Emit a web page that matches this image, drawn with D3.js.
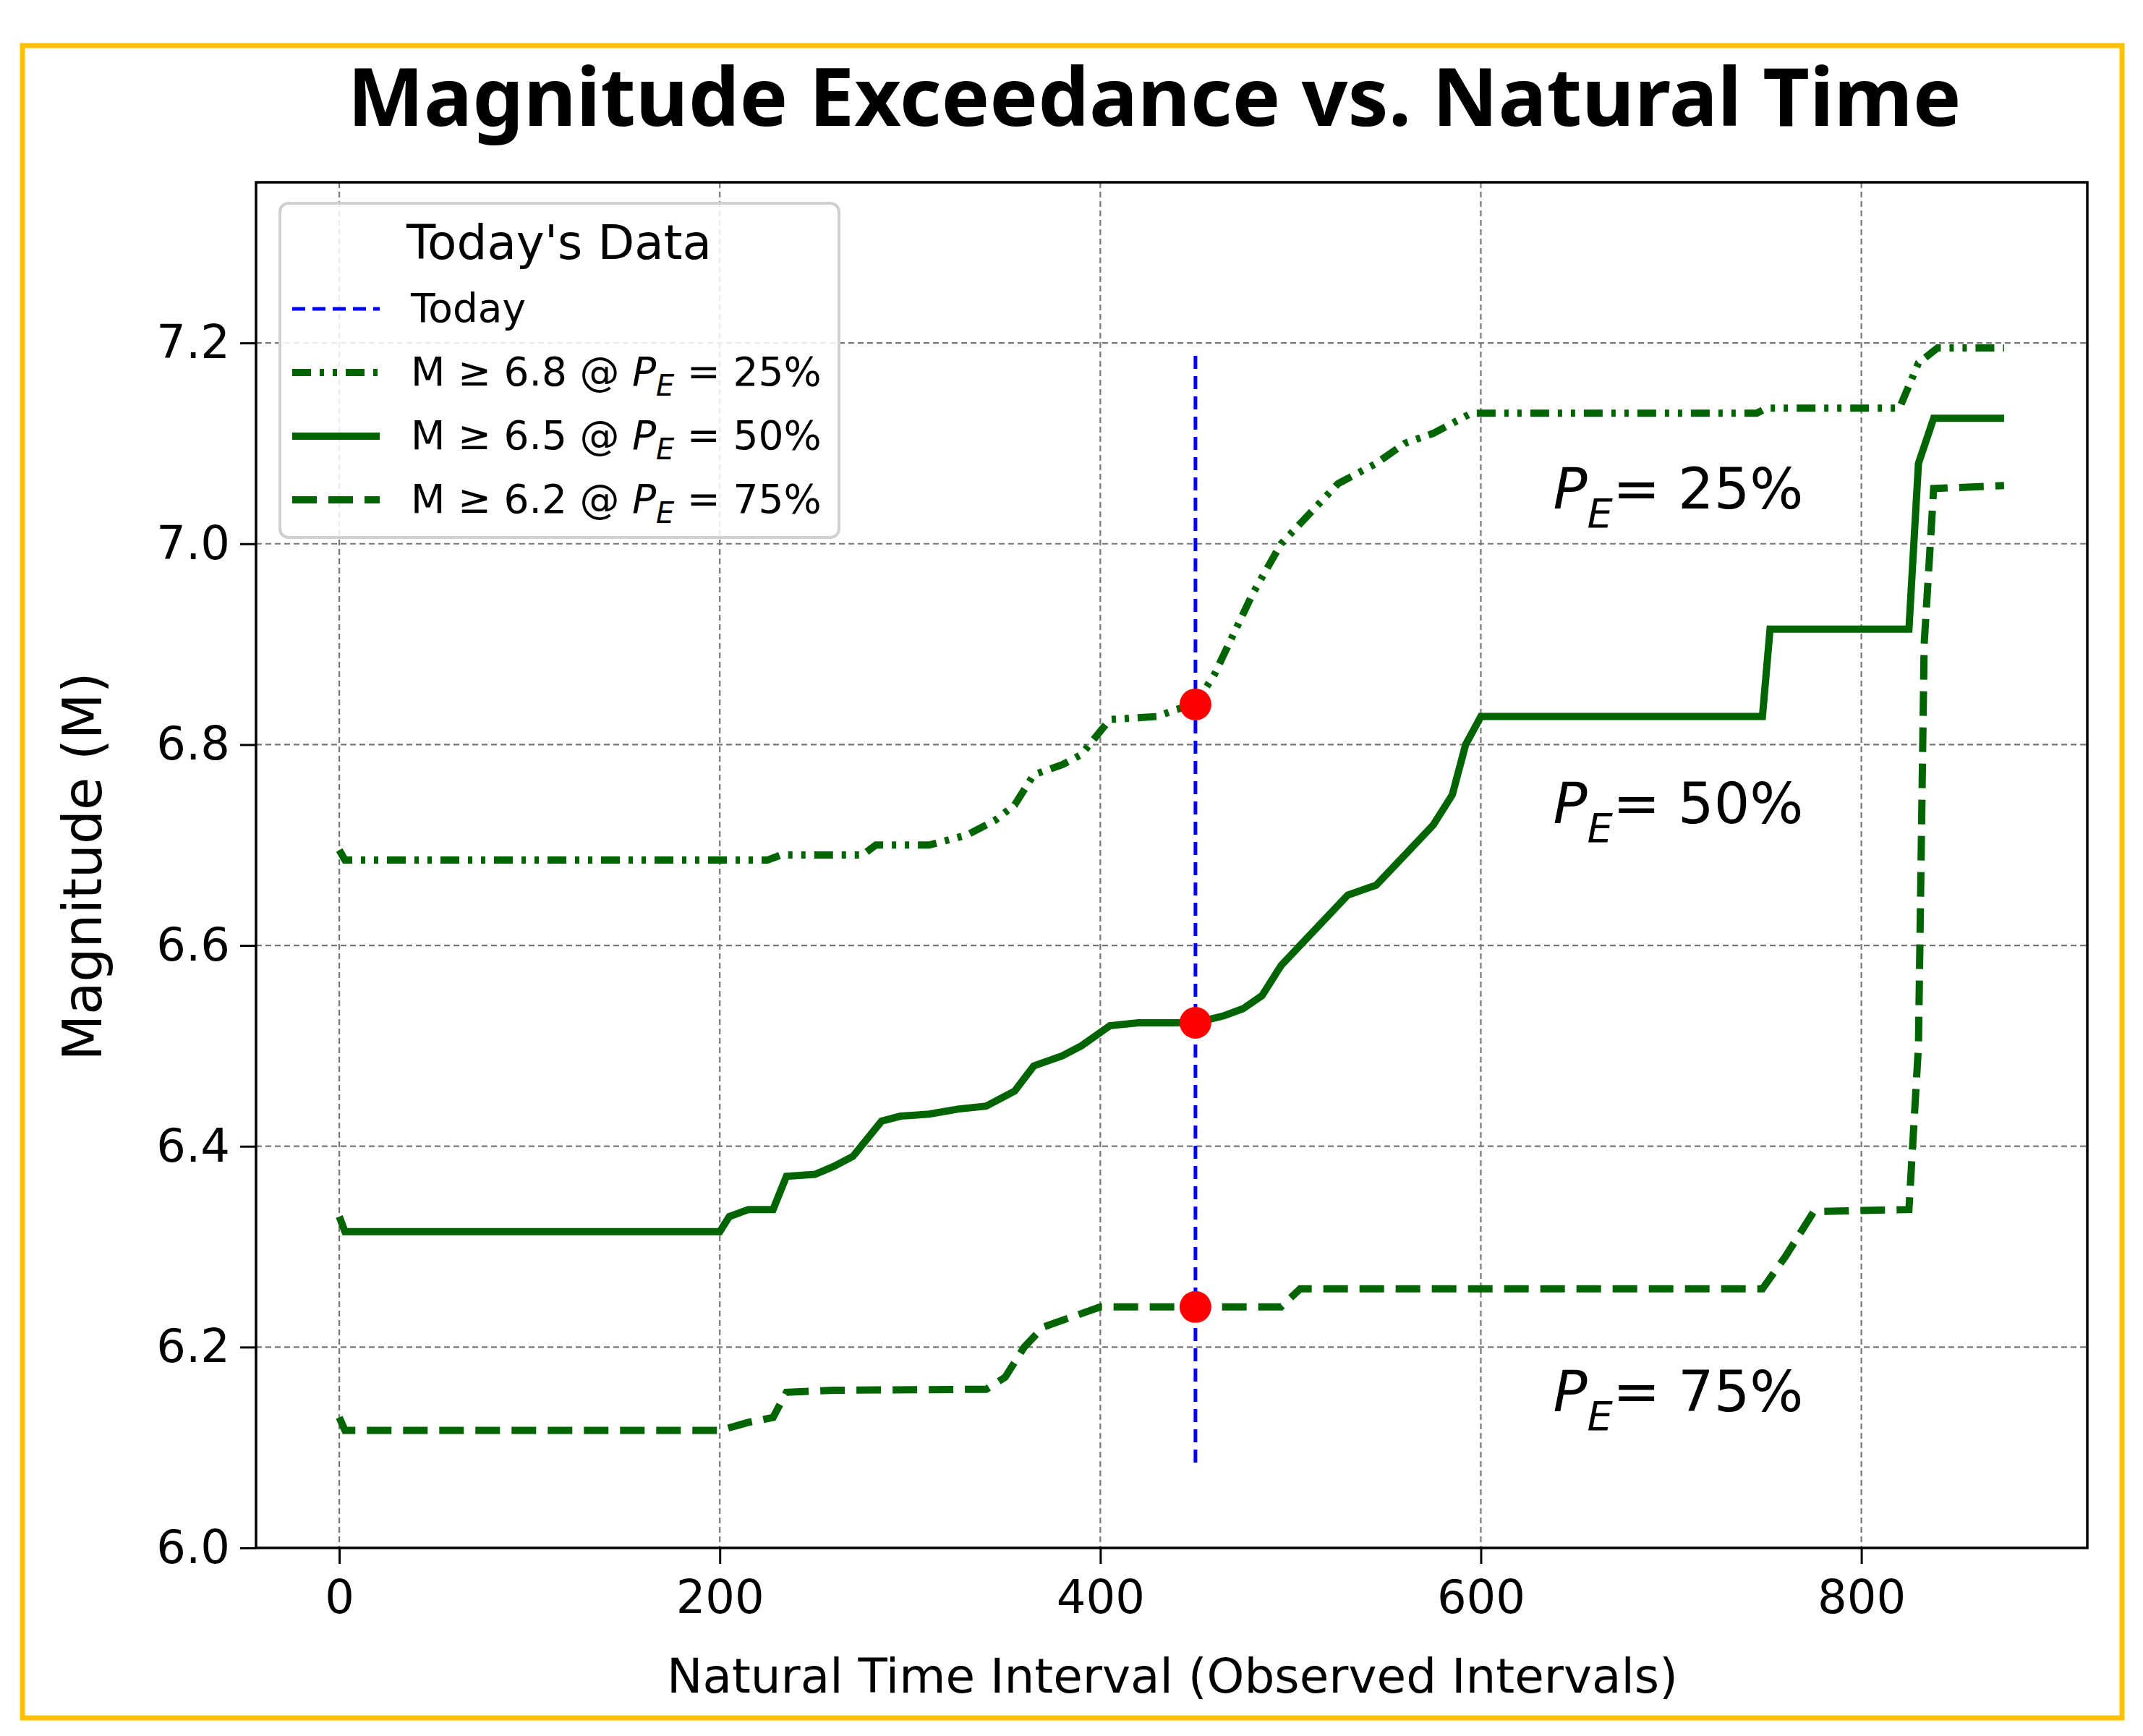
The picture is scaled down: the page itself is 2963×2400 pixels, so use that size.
<!DOCTYPE html>
<html>
<head>
<meta charset="utf-8">
<script src="https://cdn.jsdelivr.net/npm/d3@7"></script>
<style>
  body { margin: 0; background: #fff; }
  text { font-family: "DejaVu Sans", sans-serif; }
</style>
</head>
<body>
<svg id="chart" width="2963" height="2400"></svg>
<script>
// data
var pe25 = [[0,6.695],[3,6.685],[225,6.685],[232,6.69],[275,6.69],[282,6.70],[310,6.70],[330,6.71],[345,6.725],[355,6.74],[365,6.77],[380,6.78],[390,6.79],[405,6.825],[430,6.828],[440,6.835],[450,6.84],[460,6.87],[470,6.91],[480,6.95],[495,7.00],[510,7.03],[525,7.06],[545,7.08],[560,7.10],[575,7.11],[595,7.13],[745,7.13],[750,7.135],[820,7.135],[830,7.18],[840,7.195],[875,7.195]];
var pe50 = [[0,6.33],[3,6.315],[200,6.315],[205,6.33],[215,6.337],[228,6.337],[235,6.37],[250,6.372],[260,6.38],[270,6.39],[285,6.425],[295,6.43],[310,6.432],[325,6.437],[340,6.44],[355,6.455],[365,6.48],[380,6.49],[390,6.50],[405,6.52],[420,6.523],[450,6.523],[465,6.53],[475,6.537],[485,6.55],[495,6.58],[505,6.60],[515,6.62],[530,6.65],[545,6.66],[555,6.68],[565,6.70],[575,6.72],[585,6.75],[592,6.80],[600,6.828],[748,6.828],[752,6.915],[825,6.915],[830,7.08],[838,7.125],[875,7.125]];
var pe75 = [[0,6.13],[3,6.117],[200,6.117],[215,6.125],[228,6.13],[235,6.155],[260,6.157],[340,6.158],[350,6.17],[360,6.20],[370,6.22],[385,6.23],[400,6.24],[495,6.24],[505,6.258],[748,6.258],[760,6.29],[775,6.335],[825,6.337],[830,6.50],[833,6.90],[838,7.055],[875,7.058]];
var today = 450;
var todayRange = [6.085, 7.19];
var todayPoints = [6.84, 6.523, 6.24];
var xTicks = [0, 200, 400, 600, 800];
var yTicks = [6.0, 6.2, 6.4, 6.6, 6.8, 7.0, 7.2];
var annotations = [{x: 638, y: 7.035, label: "25%"}, {x: 638, y: 6.722, label: "50%"}, {x: 638, y: 6.136, label: "75%"}];

var green = "#006400";
var svg = d3.select("#chart");
var L = 354, R = 2886, T = 252, B = 2140;

var x = d3.scaleLinear().domain([-43.75, 918.75]).range([L, R]);
var y = d3.scaleLinear().domain([6.0, 7.36]).range([B, T]);

// outer gold frame
svg.append("rect").attr("x", 31).attr("y", 63).attr("width", 2903).attr("height", 2312)
  .attr("fill", "none").attr("stroke", "#FFC000").attr("stroke-width", 7);

svg.append("text").attr("x", 1596).attr("y", 174).attr("text-anchor", "middle")
  .style("font-family", "'Noto Sans', sans-serif").style("font-weight", "bold").style("font-size", "112px")
  .text("Magnitude Exceedance vs. Natural Time");

// grid
var grid = svg.append("g").attr("stroke", "#777").attr("stroke-width", 2.2).attr("stroke-dasharray", "8,5");
grid.selectAll(".gx").data(xTicks).enter().append("line")
  .attr("x1", d => x(d)).attr("x2", d => x(d)).attr("y1", T).attr("y2", B);
grid.selectAll(".gy").data(yTicks).enter().append("line")
  .attr("x1", L).attr("x2", R).attr("y1", d => y(d)).attr("y2", d => y(d));

// axes
var xAxis = svg.append("g").attr("transform", "translate(0," + B + ")")
  .call(d3.axisBottom(x).tickValues(xTicks).tickSize(22).tickPadding(14));
var yAxis = svg.append("g").attr("transform", "translate(" + L + ",0)")
  .call(d3.axisLeft(y).tickValues(yTicks).tickFormat(d3.format(".1f")).tickSize(22).tickPadding(14));
[xAxis, yAxis].forEach(function (a) {
  a.select(".domain").remove();
  a.selectAll("line").attr("stroke", "#000").attr("stroke-width", 3);
  a.selectAll("text").style("font-size", "64px").attr("fill", "#000");
});
xAxis.selectAll("text").attr("dy", "0.85em");
svg.append("rect").attr("x", L).attr("y", T).attr("width", R - L).attr("height", B - T)
  .attr("fill", "none").attr("stroke", "#000").attr("stroke-width", 3.5);

svg.append("text").attr("x", 1621).attr("y", 2340).attr("text-anchor", "middle")
  .style("font-size", "66px").text("Natural Time Interval (Observed Intervals)");
svg.append("text").attr("transform", "translate(140,1198) rotate(-90)").attr("text-anchor", "middle")
  .style("font-size", "74px").text("Magnitude (M)");

// series
var line = d3.line().x(d => x(d[0])).y(d => y(d[1]));
var series = [
  {data: pe25, dash: "26,12,6,12,6,12", label: "M ≥ 6.8 @ ", pct: "25%"},
  {data: pe50, dash: null, label: "M ≥ 6.5 @ ", pct: "50%"},
  {data: pe75, dash: "34,16", label: "M ≥ 6.2 @ ", pct: "75%"}
];
series.forEach(function (s) {
  svg.append("path").datum(s.data).attr("d", line).attr("fill", "none")
    .attr("stroke", green).attr("stroke-width", 10).attr("stroke-dasharray", s.dash);
});

svg.append("line").attr("x1", x(today)).attr("x2", x(today))
  .attr("y1", y(todayRange[0])).attr("y2", y(todayRange[1]))
  .attr("stroke", "#0000ff").attr("stroke-width", 5).attr("stroke-dasharray", "18,10");
svg.selectAll(".dot").data(todayPoints).enter().append("circle")
  .attr("cx", x(today)).attr("cy", d => y(d)).attr("r", 22).attr("fill", "#ff0000");

// annotations
annotations.forEach(function (a) {
  var t = svg.append("text").attr("x", x(a.x)).attr("y", y(a.y)).style("font-size", "78px");
  t.append("tspan").style("font-style", "italic").text("P");
  t.append("tspan").style("font-style", "italic").style("font-size", "56px").attr("dy", 26).text("E");
  t.append("tspan").attr("dy", -26).text("= " + a.label);
});

// legend
var lg = svg.append("g");
lg.append("rect").attr("x", 387).attr("y", 281).attr("width", 773).attr("height", 462).attr("rx", 12)
  .attr("fill", "#fff").attr("fill-opacity", 0.85).attr("stroke", "#d0d0d0").attr("stroke-width", 4);
lg.append("text").attr("x", 773).attr("y", 358).attr("text-anchor", "middle").style("font-size", "66px").text("Today's Data");
var items = [{color: "#0000ff", dash: "18,10", w: 5, label: "Today"}].concat(series.map(function (s) {
  return {color: green, dash: s.dash, w: 10, label: s.label, pct: s.pct};
}));
items.forEach(function (it, i) {
  var yy = 427 + i * 88;
  lg.append("line").attr("x1", 404).attr("x2", 525).attr("y1", yy).attr("y2", yy)
    .attr("stroke", it.color).attr("stroke-width", it.w).attr("stroke-dasharray", it.dash);
  var t = lg.append("text").attr("x", 568).attr("y", yy + 18).style("font-size", "55px").text(it.label);
  if (it.pct) {
    t.append("tspan").style("font-style", "italic").text("P");
    t.append("tspan").style("font-style", "italic").style("font-size", "40px").attr("dy", 14).text("E");
    t.append("tspan").attr("dy", -14).text(" = " + it.pct);
  }
});
</script>
</body>
</html>
